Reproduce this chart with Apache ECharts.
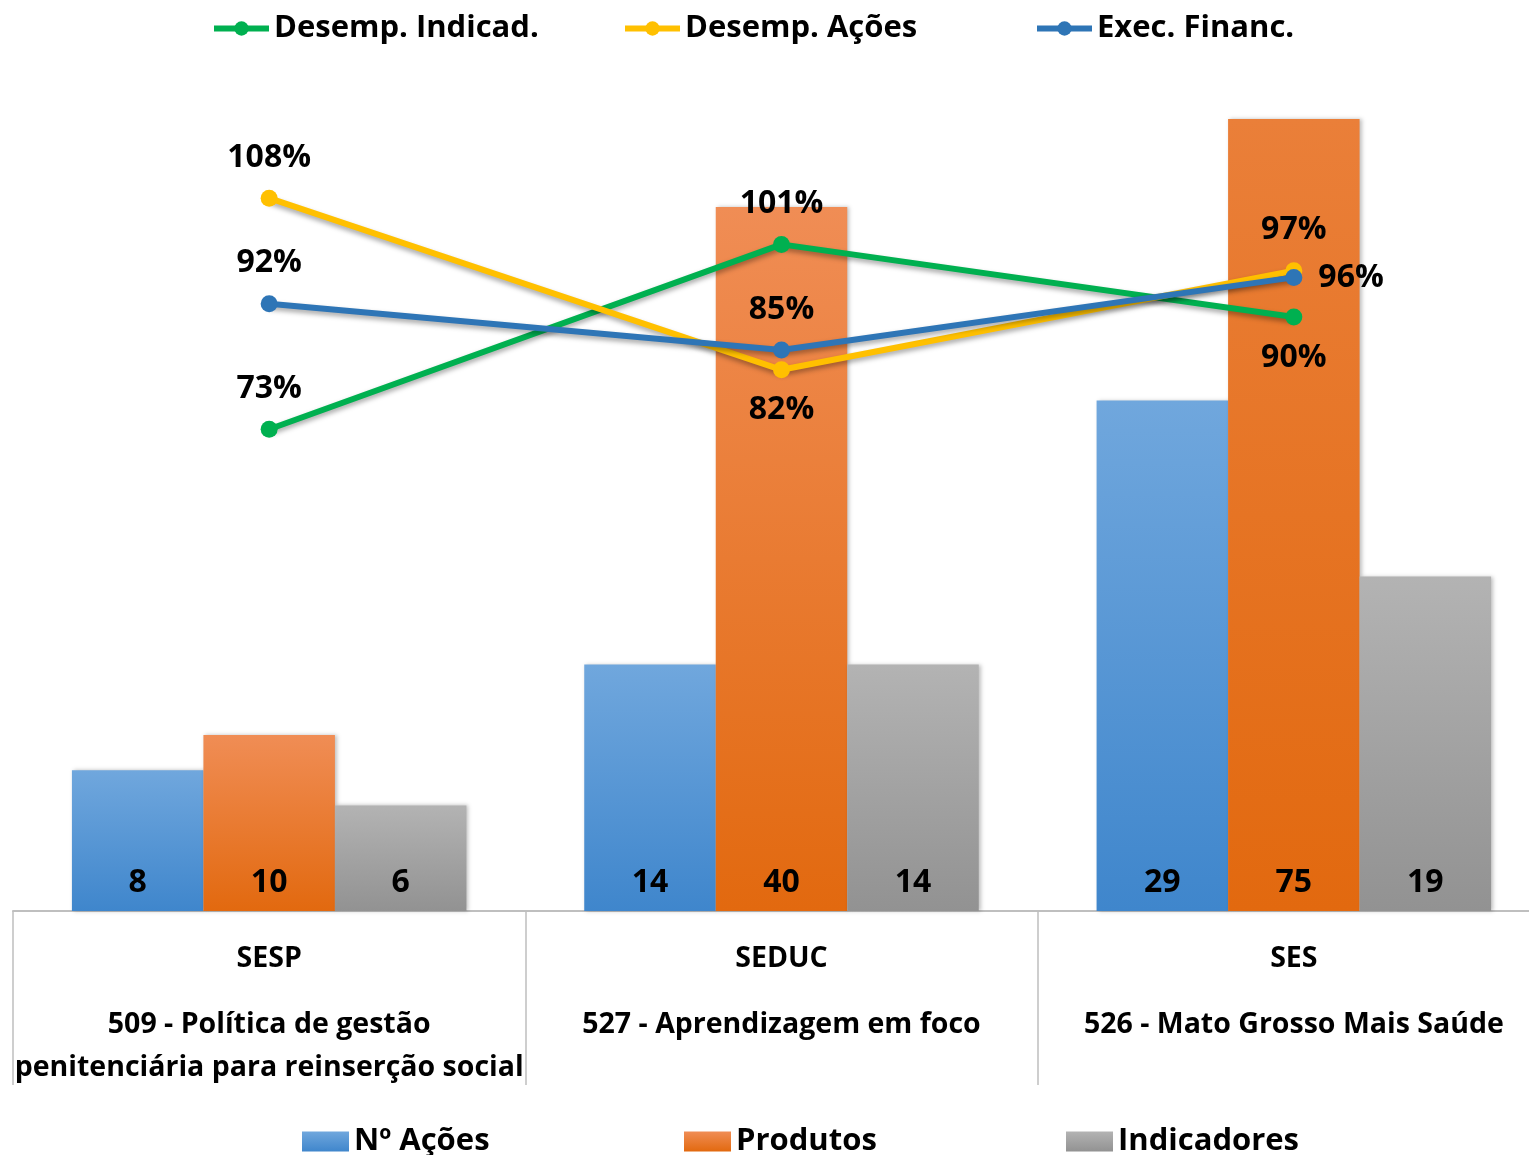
<!DOCTYPE html>
<html>
<head>
<meta charset="utf-8">
<script src="https://cdn.jsdelivr.net/npm/echarts@6/dist/echarts.min.js"></script>
<style>
  html, body { margin: 0; padding: 0; background: #fff; }
  #chart { width: 1529px; height: 1155px; }
</style>
</head>
<body>
<div id="chart"></div>
<script>
// dados
var orgaos = ["SESP", "SEDUC", "SES"];
var programas = [
  "509 - Política de gestão\npenitenciária para reinserção social",
  "527 - Aprendizagem em foco",
  "526 - Mato Grosso Mais Saúde"
];
var numAcoes = [8, 14, 29];
var produtos = [10, 40, 75];
var indicadores = [6, 14, 19];
var desempIndicad = [73, 101, 90];
var desempAcoes = [108, 82, 97];
var execFinanc = [92, 85, 96];

var FONT = "Open Sans";
var BAR_MAX = 45; // eixo das barras (a de 75 fica cortada)

var categorias = orgaos.map(function (o, i) {
  return o + "|" + programas[i];
});

function hex2rgb(h) {
  return [parseInt(h.substr(1, 2), 16), parseInt(h.substr(3, 2), 16), parseInt(h.substr(5, 2), 16)];
}
function mix(a, b, t) {
  var x = hex2rgb(a), y = hex2rgb(b);
  return "rgb(" + x.map(function (v, i) { return Math.round(v + (y[i] - v) * t); }).join(",") + ")";
}

// gradiente vertical das barras
function grad(top, bottom) {
  return new echarts.graphic.LinearGradient(0, 0, 0, 1, [
    { offset: 0, color: top },
    { offset: 1, color: bottom },
  ]);
}

function barSerie(name, data, top, bottom) {
  return {
    name: name,
    type: "bar",
    yAxisIndex: 0,
    // barra cortada no topo: gradiente começa no ponto do corte, como no Excel
    data: data.map(function (v) {
      if (v <= BAR_MAX) return v;
      return { value: v, itemStyle: { color: grad(mix(top, bottom, 1 - BAR_MAX / v), bottom) } };
    }),
    barGap: "0%",
    barCategoryGap: "23%",
    itemStyle: {
      color: grad(top, bottom),
      shadowColor: "rgba(0,0,0,0.25)",
      shadowBlur: 4,
      shadowOffsetX: 2,
    },
    label: {
      show: true,
      position: "insideBottom",
      distance: 12,
      color: "#000",
      fontFamily: FONT,
      fontWeight: "bold",
      fontSize: 32,
    },
  };
}

// posições dos rótulos de cada ponto
function lineSerie(name, data, color, positions) {
  return {
    name: name,
    type: "line",
    yAxisIndex: 1,
    z: 10,
    data: data.map(function (v, i) {
      return { value: v, label: { position: positions[i] } };
    }),
    symbol: "circle",
    symbolSize: 17,
    lineStyle: {
      color: color,
      width: 6,
      shadowColor: "rgba(0,0,0,0.35)",
      shadowBlur: 5,
      shadowOffsetY: 3,
    },
    itemStyle: { color: color },
    label: {
      show: true,
      distance: 16,
      color: "#000",
      fontFamily: FONT,
      fontWeight: "bold",
      fontSize: 32,
      formatter: "{c}%",
    },
  };
}

var chart = echarts.init(document.getElementById("chart"));

var legendTxt = {
  color: "#000",
  fontFamily: FONT,
  fontWeight: "bold",
  fontSize: 31,
};

function lineLegend(name, left) {
  return {
    data: [name], left: left, top: 13, padding: 0, itemWidth: 55, itemHeight: 18, itemGap: 0,
    lineStyle: { width: 6 }, textStyle: legendTxt,
  };
}
function barLegend(name, left) {
  return {
    data: [{ name: name, icon: "rect" }], left: left, top: 1126, padding: 0, itemWidth: 47, itemHeight: 20,
    textStyle: legendTxt,
  };
}

var option = {
  animation: false,
  legend: [
    lineLegend("Desemp. Indicad.", 211),
    lineLegend("Desemp. Ações", 622),
    lineLegend("Exec. Financ.", 1034),
    barLegend("Nº Ações", 302),
    barLegend("Produtos", 684),
    barLegend("Indicadores", 1066),
  ],
  grid: {
    left: 13,
    right: -21,
    top: 119,
    bottom: 244,
    containLabel: false,
    outerBoundsMode: "none",
  },
  xAxis: {
    type: "category",
    data: categorias,
    axisLine: { lineStyle: { color: "#bfbfbf", width: 2 } },
    axisTick: { show: true, length: 174, lineStyle: { color: "#bfbfbf", width: 1.5 } },
    axisLabel: {
      interval: 0,
      margin: 3,
      formatter: function (v) {
        var p = v.split("|");
        var linhas = p[1].split("\n").map(function (l) {
          return "{b|" + l + "}";
        });
        return "{a|" + p[0] + "}\n" + linhas.join("\n");
      },
      rich: {
        a: { fontFamily: FONT, fontWeight: "bold", fontSize: 28.5, color: "#000", lineHeight: 89 },
        b: { fontFamily: FONT, fontWeight: "bold", fontSize: 28.5, color: "#000", lineHeight: 43 },
      },
    },
  },
  yAxis: [
    { type: "value", min: 0, max: BAR_MAX, show: false, splitLine: { show: false } },
    { type: "value", min: 0, max: 120, show: false, splitLine: { show: false } },
  ],
  series: [
    barSerie("Nº Ações", numAcoes, "#70a7dd", "#3f86cc"),
    barSerie("Produtos", produtos, "#f08d55", "#e2690f"),
    barSerie("Indicadores", indicadores, "#b3b3b3", "#929292"),
    lineSerie("Desemp. Indicad.", desempIndicad, "#00b050", ["top", "top", "bottom"]),
    lineSerie("Desemp. Ações", desempAcoes, "#ffc000", ["top", "bottom", "top"]),
    lineSerie("Exec. Financ.", execFinanc, "#2e75b6", ["top", "top", "right"]),
  ],
};

chart.setOption(option);
</script>
</body>
</html>
